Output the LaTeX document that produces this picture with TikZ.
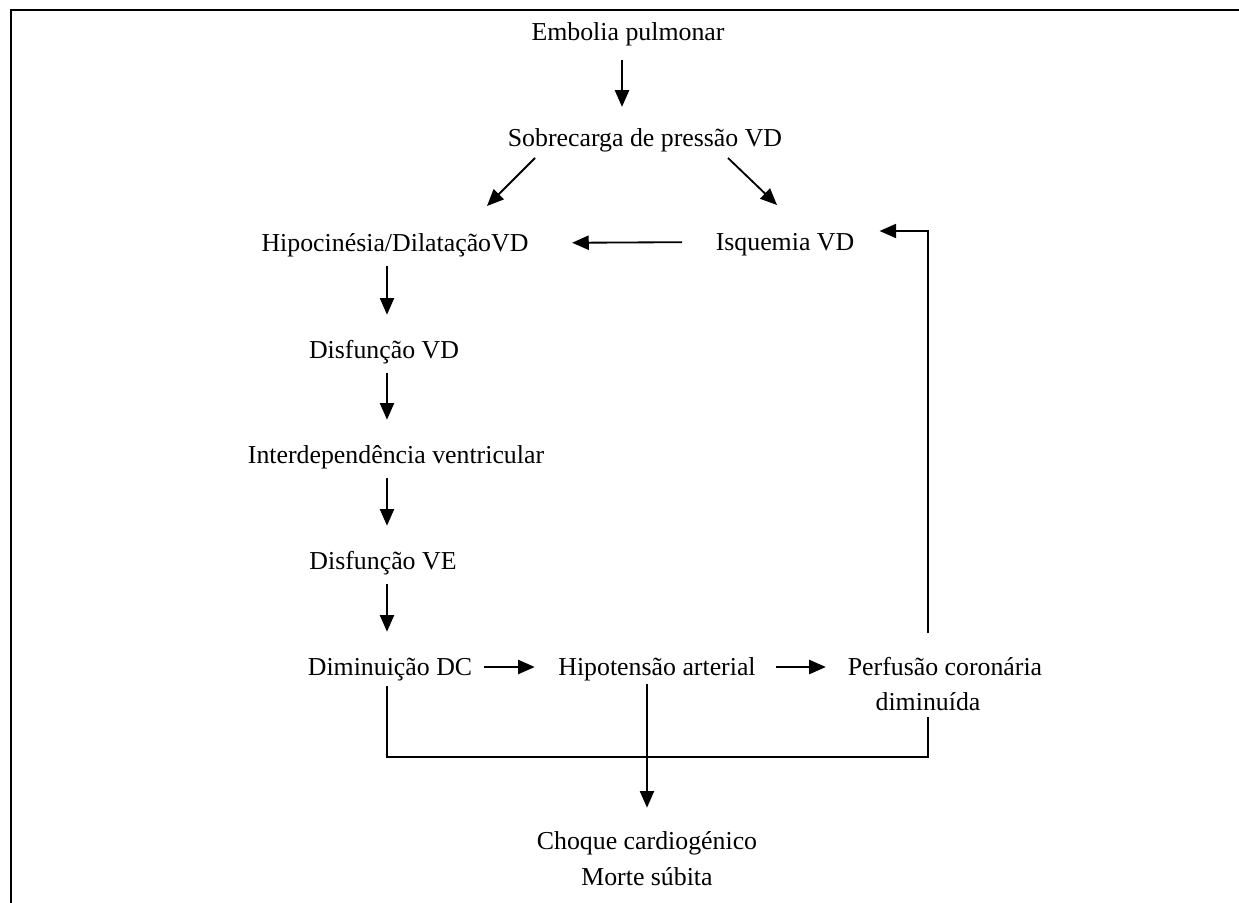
\documentclass[tikz,border=0pt]{standalone}
\usepackage{fontspec}
\setmainfont{Liberation Serif}
\usetikzlibrary{positioning, arrows.meta}

\begin{document}
\begin{tikzpicture}[
  x=0.6pt, y=-0.6pt,
  font=\fontsize{15.5pt}{22pt}\selectfont,
  lbl/.style={inner sep=0pt, text height=12pt, text depth=2pt},
  arr/.style={-{Triangle[length=10pt,width=8.5pt]}, line width=1.1pt},
  ln/.style={line width=1.1pt},
  down/.style={arr, shorten <=6.5pt, shorten >=14pt},
]
\useasboundingbox (0,0) rectangle (1239,903);

% ---- Frame ----
\draw[line width=1.3pt] (11,903) -- (11,10) -- (1239,10);

% ---- Top ----
\node[lbl] (emb) at (628,32) {Embolia pulmonar};
\node[lbl] (sob) at (645,138) {Sobrecarga de pressão VD};
\node[lbl] (hipo) at (395,243) {Hipocinésia/DilataçãoVD};
\node[lbl] (isq) at (785,242) {Isquemia VD};

% ---- Left column ----
\node[lbl] (dvd) at (384,350) {Disfunção VD};
\node[lbl] (inter) at (396,455) {Interdependência ventricular};
\node[lbl] (dve) at (383,561) {Disfunção VE};
\node[lbl] (dim) at (390,667) {Diminuição DC};
\node[lbl] (hipot) at (657,667) {Hipotensão arterial};
\node[lbl] (perf) at (945,667) {Perfusão coronária};
\node[lbl] (dimin) at (928,702) {diminuída};
\node[inner sep=0pt, align=center, anchor=north] (choq) at (647,831)
   {Choque cardiogénico\\Morte súbita};

\coordinate (ax) at (387,0);
\coordinate (bus) at (0,757);

% ---- Arrows ----
\draw[arr, shorten <=9.5pt, shorten >=11.5pt]
   ([shift={(-6,0)}]emb.south) -- ([shift={(-6,0)}]emb.south |- sob.north);
\draw[arr] ([shift={(-110,8)}]sob.south) -- ([shift={(92,-25)}]hipo.north);
\draw[arr] ([shift={(83,8)}]sob.south) -- ([shift={(-8,-25)}]isq.north);
\draw[arr, shorten <=20pt, shorten >=26pt] (isq.west) -- (hipo.east);

\draw[down] (hipo.south -| ax) -- (dvd.north -| ax);
\draw[down] (dvd.south -| ax) -- (inter.north -| ax);
\draw[down] (inter.south -| ax) -- (dve.north -| ax);
\draw[down] (dve.south -| ax) -- (dim.north -| ax);

\draw[arr, shorten <=7pt, shorten >=14pt] (dim.east) -- (hipot.west);
\draw[arr, shorten <=12pt, shorten >=13pt] (hipot.east) -- (perf.west);

% feedback to Isquemia VD
\draw[arr] (dimin |- perf.north) ++(0,-22) |- ([shift={(25,-11)}]isq.east);

% collecting line and exit
\draw[ln] (dim.south -| ax) ++(0,7) -- (ax |- bus) -- (dimin |- bus) -- ([shift={(0,3)}]dimin.south);
\draw[arr, shorten <=3pt, shorten >=14pt] (choq.north |- hipot.south) -- (choq.north);

\end{tikzpicture}
\end{document}
